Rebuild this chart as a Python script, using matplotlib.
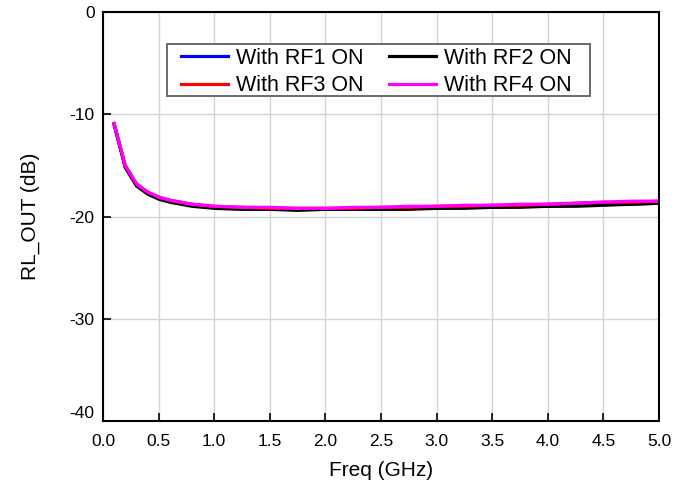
import numpy as np
import matplotlib.pyplot as plt
from matplotlib.patches import Rectangle

plt.rcParams['font.family'] = ['Liberation Sans', 'DejaVu Sans']

# Daten
freq = [0.1, 0.2, 0.3, 0.4, 0.5, 0.6, 0.7, 0.8, 0.9, 1.0, 1.25, 1.5, 1.75, 2.0,
        2.25, 2.5, 2.75, 3.0, 3.25, 3.5, 3.75, 4.0, 4.25, 4.5, 4.75, 5.0]
rf1 = [-11.0, -15.1, -16.9, -17.7, -18.2, -18.5, -18.7, -18.9, -19.0, -19.1, -19.2, -19.3, -19.3, -19.3,
       -19.3, -19.3, -19.2, -19.2, -19.1, -19.1, -19.0, -19.0, -18.9, -18.8, -18.8, -18.7]
rf2 = [-11.0, -15.2, -17.0, -17.8, -18.3, -18.6, -18.8, -19.0, -19.1, -19.2, -19.3, -19.3, -19.4, -19.3,
       -19.3, -19.3, -19.3, -19.2, -19.2, -19.1, -19.1, -19.0, -19.0, -18.9, -18.8, -18.7]
rf3 = [-10.9, -15.0, -16.8, -17.6, -18.1, -18.4, -18.6, -18.8, -18.9, -19.0, -19.1, -19.2, -19.2, -19.2,
       -19.2, -19.1, -19.1, -19.0, -19.0, -18.9, -18.9, -18.8, -18.7, -18.6, -18.6, -18.5]
rf4 = [-10.9, -15.0, -16.8, -17.6, -18.1, -18.4, -18.6, -18.8, -18.9, -19.0, -19.1, -19.1, -19.2, -19.2,
       -19.1, -19.1, -19.0, -19.0, -18.9, -18.9, -18.8, -18.8, -18.7, -18.6, -18.5, -18.5]
labels = ['With RF1 ON', 'With RF2 ON', 'With RF3 ON', 'With RF4 ON']
colors = ['#0000ff', '#000000', '#ff0000', '#ff00ff']

fig = plt.figure(figsize=(6.89, 4.9), dpi=100)
ax = fig.add_axes([0.1495, 0.1408, 0.807, 0.8347])

lines = []
for y, lab, c in zip([rf1, rf2, rf3, rf4], labels, colors):
    l, = ax.plot(freq, y, color=c, lw=2.3, label=lab)
    lines.append(l)

ax.set_xlim(0, 5)
ax.set_ylim(-40, 0)
ax.set_xticks(np.arange(0, 5.01, 0.5))
ax.set_yticks([-40, -30, -20, -10, 0])
ax.set_yticklabels(['-40', '-30', '-20', '-10', '0'])
ax.grid(True, color='#d3d3d3', lw=1)
ax.tick_params(direction='in', length=5.5, width=1.2, labelsize=12.5)
ax.tick_params(axis='x', pad=9)
ax.tick_params(axis='y', pad=6)
ax.yaxis.get_major_ticks()[0].label1.set_va('bottom')
for s in ax.spines.values():
    s.set_linewidth(1.5)
ax.set_xlabel('Freq (GHz)', fontsize=15, labelpad=9)
ax.set_ylabel('RL_OUT (dB)', fontsize=15, labelpad=21)

# Legende zeilenweise: RF1 RF2 / RF3 RF4
order = [0, 2, 1, 3]
leg = ax.legend([lines[i] for i in order], [labels[i] for i in order],
                loc='upper left', bbox_to_anchor=(0.1403, 0.912), ncol=2, fontsize=15.5,
                frameon=False, handlelength=2.2, handletextpad=0.35, columnspacing=1.18,
                labelspacing=0.3, borderpad=0, borderaxespad=0)
leg.set_zorder(5)
# Rahmen der Legende
ax.add_patch(Rectangle((0.1151, 0.7946), 0.7608, 0.1272, transform=ax.transAxes,
                       facecolor='white', edgecolor='#6a6a6a', lw=1.4, zorder=4))

fig.savefig('out.png', dpi=100)
